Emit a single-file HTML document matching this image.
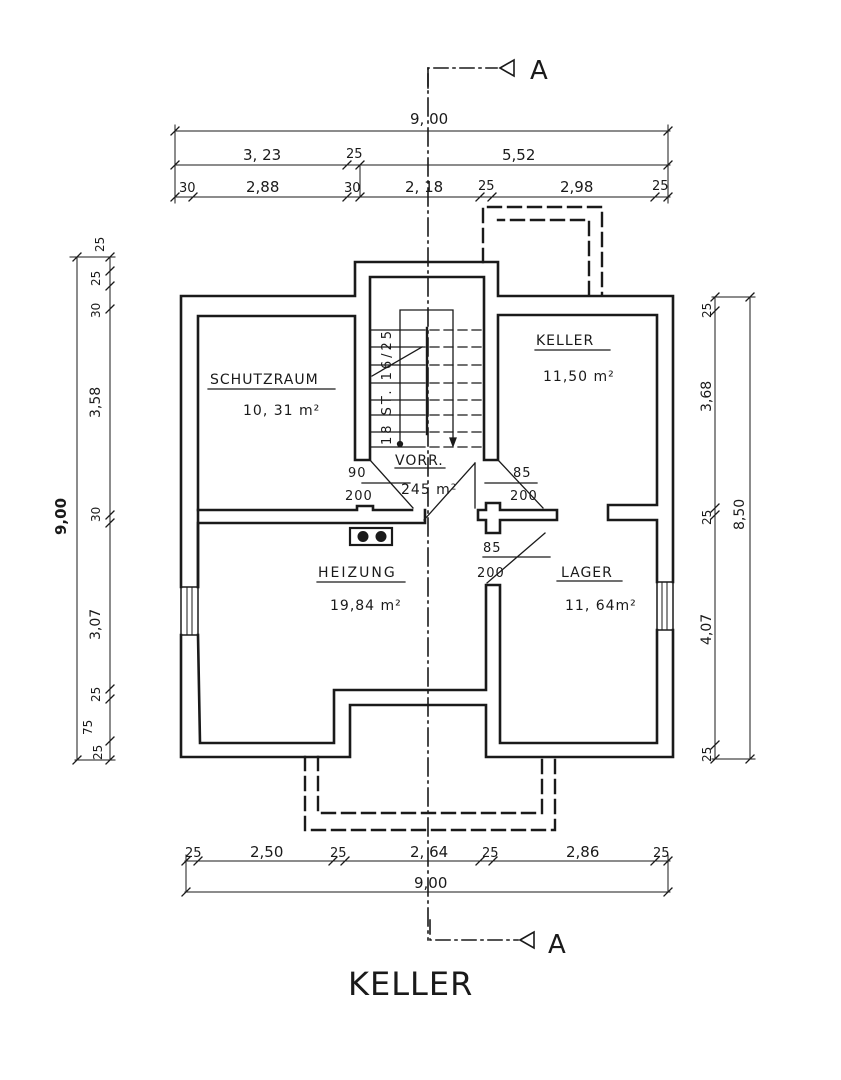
<!DOCTYPE html>
<html><head><meta charset="utf-8"><style>
body{margin:0;background:#fff;}
svg{display:block;}
text{font-family:"DejaVu Sans","Liberation Sans",sans-serif;fill:#1a1a1a;}
</style></head><body>
<svg width="841" height="1080" viewBox="0 0 841 1080" xmlns="http://www.w3.org/2000/svg">
<g stroke="#1a1a1a" fill="none" stroke-linecap="square">
<line x1="428" y1="68" x2="428" y2="940" stroke-width="1.6" stroke-dasharray="18,5,2,5"/>
<polyline points="428,88 428,68 497,68" stroke-width="1.6" stroke-dasharray="14,5,2,5"/>
<polygon points="500,68 514,60 514,76" stroke-width="1.6"/>
<polyline points="430,920 430,940 518,940" stroke-width="1.6" stroke-dasharray="14,5,2,5"/>
<polygon points="520,940 534,932 534,948" stroke-width="1.6"/>

<g stroke-width="2.6">
<polyline points="181,587 181,296 355,296 355,262 498,262 498,296 673,296 673,582"/>
<polyline points="673,630 673,757 486,757 486,705 350,705 350,757 181,757 181,635"/>
<rect x="181" y="587" width="17" height="48" stroke-width="1.5"/>
<line x1="187" y1="587" x2="187" y2="635" stroke-width="1"/><line x1="192" y1="587" x2="192" y2="635" stroke-width="1"/>
<rect x="657" y="582" width="16" height="48" stroke-width="1.5"/>
<line x1="662" y1="582" x2="662" y2="630" stroke-width="1"/><line x1="667" y1="582" x2="667" y2="630" stroke-width="1"/>
<polyline points="198,587 198,510 198,316 355,316 355,460 370,460 370,277 484,277 484,460 498,460 498,315 657,315 657,505 608,505 608,520 657,520 657,582"/>
<polyline points="198,510 357,510 357,506 373,506 373,510 412,510"/>
<polyline points="425,510 425,523 198,523 198,587"/>
<polyline points="198,635 200,743 334,743 334,690 486,690 486,585 500,585 500,743 657,743 657,630"/>
<polygon points="486,503 500,503 500,510 557,510 557,520 500,520 500,533 486,533 486,520 478,520 478,510 486,510"/>
</g>
<g stroke-width="1.3">
<line x1="370" y1="460" x2="413" y2="508"/><line x1="362" y1="483" x2="410" y2="483"/>
<line x1="498" y1="460" x2="543" y2="508"/><line x1="485" y1="483" x2="537" y2="483"/>
<line x1="424" y1="520" x2="475" y2="463"/><line x1="475" y1="463" x2="475" y2="508"/>
<line x1="487" y1="583" x2="545" y2="533"/><line x1="483" y1="557" x2="550" y2="557"/>
</g>
<g stroke-width="1.3">
<line x1="370" y1="330" x2="425" y2="330"/><line x1="370" y1="347" x2="425" y2="347"/>
<line x1="370" y1="365" x2="425" y2="365"/><line x1="370" y1="383" x2="425" y2="383"/>
<line x1="370" y1="400" x2="425" y2="400"/><line x1="370" y1="415" x2="425" y2="415"/>
<line x1="370" y1="432" x2="425" y2="432"/><line x1="370" y1="447" x2="425" y2="447"/>
<g stroke-dasharray="9,5">
<line x1="430" y1="330" x2="484" y2="330"/><line x1="430" y1="347" x2="484" y2="347"/>
<line x1="430" y1="365" x2="484" y2="365"/><line x1="430" y1="383" x2="484" y2="383"/>
<line x1="430" y1="400" x2="484" y2="400"/><line x1="430" y1="415" x2="484" y2="415"/>
<line x1="430" y1="432" x2="484" y2="432"/><line x1="430" y1="447" x2="484" y2="447"/>
</g>
<line x1="427" y1="328" x2="427" y2="434" stroke-width="2.4"/>
<polyline points="400,443 400,310 453,310 453,440"/>
<circle cx="400" cy="444" r="2.5" fill="#1a1a1a"/>
<polygon points="450,438 456,438 453,446" fill="#1a1a1a"/>
<line x1="372" y1="376" x2="422" y2="347"/>
</g>
<rect x="350" y="528" width="42" height="17" stroke-width="2.2"/>
<circle cx="363" cy="536.5" r="5" fill="#1a1a1a" stroke-width="1"/>
<circle cx="381" cy="536.5" r="5" fill="#1a1a1a" stroke-width="1"/>
<g stroke-width="2.4" stroke-dasharray="13,7">
<polyline points="483,262 483,207 602,207 602,295"/>
<polyline points="589,295 589,220 498,220"/>
<polyline points="305,757 305,830 555,830 555,757"/>
<polyline points="318,757 318,813 542,813 542,757"/>
</g>
<g stroke-width="1.2">
<line x1="208" y1="389" x2="335" y2="389"/>
<line x1="535" y1="350" x2="610" y2="350"/>
<line x1="395" y1="468" x2="445" y2="468"/>
<line x1="317" y1="582" x2="405" y2="582"/>
<line x1="557" y1="581" x2="622" y2="581"/>
</g>
<g stroke-width="1">
<line x1="175" y1="131" x2="670" y2="131"/>
<line x1="175" y1="165" x2="670" y2="165"/>
<line x1="175" y1="197" x2="670" y2="197"/>
<line x1="175" y1="125" x2="175" y2="203"/><line x1="668" y1="125" x2="668" y2="203"/>
<line x1="360" y1="165" x2="360" y2="197"/>
<line x1="185" y1="861" x2="670" y2="861"/>
<line x1="185" y1="892" x2="670" y2="892"/>
<line x1="186" y1="855" x2="186" y2="892"/><line x1="668" y1="855" x2="668" y2="892"/>
<line x1="77" y1="257" x2="77" y2="760"/><line x1="110" y1="257" x2="110" y2="760"/>
<line x1="70" y1="257" x2="115" y2="257"/><line x1="75" y1="760" x2="115" y2="760"/>
<line x1="715" y1="297" x2="715" y2="759"/><line x1="750" y1="297" x2="750" y2="759"/>
<line x1="712" y1="297" x2="755" y2="297"/><line x1="712" y1="759" x2="755" y2="759"/>
</g>
<g stroke-width="1.3">
<path d="M171,135l8,-8 M171,169l8,-8 M171,201l8,-8 M664,135l8,-8 M664,169l8,-8 M664,201l8,-8
M343,169l8,-8 M356,169l8,-8 M189,201l8,-8 M343,201l8,-8 M356,201l8,-8 M476,201l8,-8 M488,201l8,-8 M651,201l8,-8
M182,865l8,-8 M194,865l8,-8 M329,865l8,-8 M341,865l8,-8 M476,865l8,-8 M489,865l8,-8 M651,865l8,-8 M664,865l8,-8
M182,896l8,-8 M664,896l8,-8
M73,261l8,-8 M73,764l8,-8 M106,261l8,-8 M106,275l8,-8 M106,290l8,-8 M106,313l8,-8 M106,519l8,-8 M106,527l8,-8 M106,693l8,-8 M106,703l8,-8 M106,745l8,-8 M106,764l8,-8
M711,301l8,-8 M711,315l8,-8 M711,512l8,-8 M711,519l8,-8 M711,749l8,-8 M711,763l8,-8 M746,301l8,-8 M746,763l8,-8"/>
</g>
</g>
<g font-size="15">
<text x="410" y="124">9, 00</text>
<text x="243" y="160">3, 23</text>
<text x="346" y="158" font-size="13">25</text>
<text x="502" y="160">5,52</text>
<text x="179" y="192" font-size="13">30</text>
<text x="246" y="192">2,88</text>
<text x="344" y="192" font-size="13">30</text>
<text x="405" y="192">2, 18</text>
<text x="478" y="190" font-size="13">25</text>
<text x="560" y="192">2,98</text>
<text x="652" y="190" font-size="13">25</text>
<text x="185" y="857" font-size="13">25</text>
<text x="250" y="857">2,50</text>
<text x="330" y="857" font-size="13">25</text>
<text x="410" y="857">2, 64</text>
<text x="482" y="857" font-size="13">25</text>
<text x="566" y="857">2,86</text>
<text x="653" y="857" font-size="13">25</text>
<text x="414" y="888">9,00</text>
</g>
<g font-size="14">
<text transform="translate(104,252) rotate(-90)" font-size="12">25</text>
<text transform="translate(100,286) rotate(-90)" font-size="12">25</text>
<text transform="translate(100,318) rotate(-90)" font-size="12">30</text>
<text transform="translate(100,418) rotate(-90)">3,58</text>
<text transform="translate(100,522) rotate(-90)" font-size="12">30</text>
<text transform="translate(100,640) rotate(-90)">3,07</text>
<text transform="translate(100,702) rotate(-90)" font-size="12">25</text>
<text transform="translate(92,735) rotate(-90)" font-size="12">75</text>
<text transform="translate(102,760) rotate(-90)" font-size="12">25</text>
<text transform="translate(66,535) rotate(-90)" font-weight="bold" font-size="15">9,00</text>
<text transform="translate(711,318) rotate(-90)" font-size="12">25</text>
<text transform="translate(711,412) rotate(-90)">3,68</text>
<text transform="translate(711,525) rotate(-90)" font-size="12">25</text>
<text transform="translate(744,530) rotate(-90)">8,50</text>
<text transform="translate(711,645) rotate(-90)">4,07</text>
<text transform="translate(711,762) rotate(-90)" font-size="12">25</text>
</g>
<g font-size="14" letter-spacing="1">
<text x="210" y="384">SCHUTZRAUM</text>
<text x="243" y="415">10, 31 m²</text>
<text x="536" y="345">KELLER</text>
<text x="543" y="381">11,50 m²</text>
<text x="395" y="465">VORR.</text>
<text x="401" y="494">245 m²</text>
<text x="348" y="477" font-size="13">90</text>
<text x="345" y="500" font-size="13">200</text>
<text x="513" y="477" font-size="13">85</text>
<text x="510" y="500" font-size="13">200</text>
<text x="483" y="552" font-size="13">85</text>
<text x="477" y="577" font-size="13">200</text>
<text x="318" y="577" letter-spacing="2">HEIZUNG</text>
<text x="330" y="610">19,84 m²</text>
<text x="561" y="577">LAGER</text>
<text x="565" y="610">11, 64m²</text>
<text transform="translate(391,445) rotate(-90)" font-size="13" letter-spacing="3">18  ST. 16/25</text>
</g>
<text x="530" y="79" font-size="26">A</text>
<text x="548" y="953" font-size="26">A</text>
<text x="348" y="995" font-size="32" letter-spacing="1">KELLER</text>
</svg>
</body></html>
